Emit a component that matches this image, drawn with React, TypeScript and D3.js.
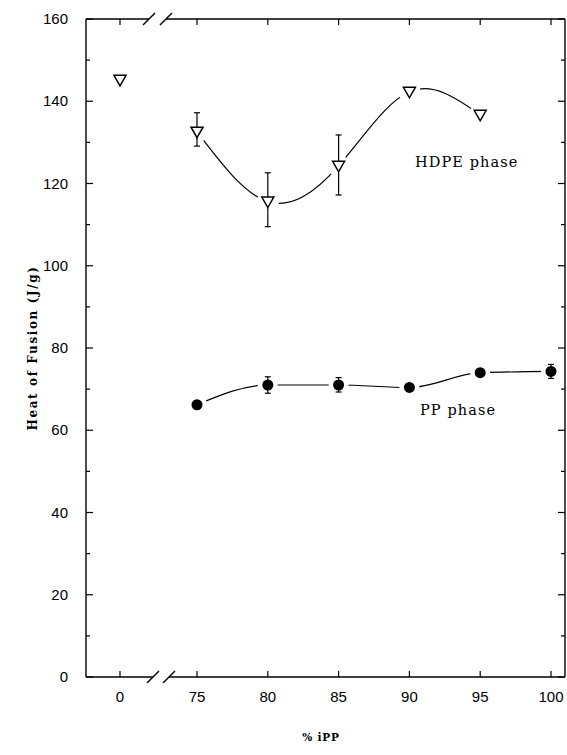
import React from "react";
import * as d3 from "d3";

// HDPE phase (open down-triangles)
const hdpeX = [0, 75, 80, 85, 90, 95];
const hdpeY = [145.2, 132.6, 115.6, 124.3, 142.3, 136.7];
const hdpeErrLo = [NaN, 129.1, 109.5, 117.2, NaN, NaN];
const hdpeErrHi = [NaN, 137.2, 122.6, 131.8, NaN, NaN];

// PP phase (filled circles)
const ppX = [75, 80, 85, 90, 95, 100];
const ppY = [66.2, 71.0, 71.0, 70.4, 74.0, 74.3];
const ppErrLo = [NaN, 69.0, 69.3, NaN, NaN, 72.6];
const ppErrHi = [NaN, 73.0, 72.8, NaN, NaN, 76.0];

const xTicks = [0, 75, 80, 85, 90, 95, 100];
const yMajor = [0, 20, 40, 60, 80, 100, 120, 140, 160];
const yMinor = [10, 30, 50, 70, 90, 110, 130, 150];

const W = 567, H = 755;
const L = 86, R = 565, T = 19, B = 677;

export default function App() {
  const x = d3.scaleLinear().domain([0, 75, 100]).range([120, 197, 551]);
  const y = d3.scaleLinear().domain([0, 160]).range([B, T]);

  const hdpeCurvePts = hdpeX.map((v, i) => [v, hdpeY[i]]).filter(p => p[0] >= 75);
  const ppPts = ppX.map((v, i) => [v, ppY[i]]);
  const hdpeLine = d3.line<number[]>().x(d => x(d[0])).y(d => y(d[1])).curve(d3.curveNatural);
  const ppLine = d3.line<number[]>().x(d => x(d[0])).y(d => y(d[1])).curve(d3.curveMonotoneX);

  const slash = (cx: number, cy: number, k: string) => (
    <line key={k} x1={cx - 6} y1={cy + 6} x2={cx + 6} y2={cy - 6} stroke="#000" strokeWidth={1.4} />
  );

  const tri = (cx: number, cy: number) => {
    const s = 6;
    return `M${cx - s},${cy - 4.5}L${cx + s},${cy - 4.5}L${cx},${cy + 6}Z`;
  };

  const errBar = (xv: number, lo: number, hi: number, k: string) =>
    isNaN(lo) ? null : (
      <g key={k} stroke="#000" strokeWidth={1.2}>
        <line x1={x(xv)} x2={x(xv)} y1={y(lo)} y2={y(hi)} />
        <line x1={x(xv) - 3} x2={x(xv) + 3} y1={y(lo)} y2={y(lo)} />
        <line x1={x(xv) - 3} x2={x(xv) + 3} y1={y(hi)} y2={y(hi)} />
      </g>
    );

  const tickFont = "'Liberation Sans', Arial, sans-serif";
  const serif = "'DejaVu Serif', 'Liberation Serif', serif";

  return (
    <svg width={W} height={H} style={{ position: "absolute", left: 0, top: 0, background: "#fff" }}>
      <rect x={0} y={0} width={W} height={H} fill="#fff" />
      {/* frame */}
      <g stroke="#000" strokeWidth={1.4} fill="none">
        <line x1={L} x2={L} y1={T} y2={B} />
        <line x1={R} x2={R} y1={T} y2={B} />
        <line x1={L} x2={153} y1={B} y2={B} />
        <line x1={169} x2={R} y1={B} y2={B} />
        <line x1={L} x2={149} y1={T} y2={T} />
        <line x1={166} x2={R} y1={T} y2={T} />
      </g>
      {slash(153, B, "b1")}
      {slash(169, B, "b2")}
      {slash(149, T, "t1")}
      {slash(166, T, "t2")}
      {/* ticks */}
      <g stroke="#000" strokeWidth={1.2}>
        {xTicks.map(t => (
          <g key={"xt" + t}>
            <line x1={x(t)} x2={x(t)} y1={B} y2={B - 6} />
            <line x1={x(t)} x2={x(t)} y1={T} y2={T + 6} />
          </g>
        ))}
        {yMajor.map(t => (
          <g key={"ym" + t}>
            <line x1={L} x2={L + 7} y1={y(t)} y2={y(t)} />
            <line x1={R} x2={R - 7} y1={y(t)} y2={y(t)} />
          </g>
        ))}
        {yMinor.map(t => (
          <g key={"yn" + t}>
            <line x1={L} x2={L + 4} y1={y(t)} y2={y(t)} />
            <line x1={R} x2={R - 4} y1={y(t)} y2={y(t)} />
          </g>
        ))}
      </g>
      {/* tick labels */}
      <g fontFamily={tickFont} fontSize={15} fill="#000">
        {xTicks.map(t => (
          <text key={"xl" + t} x={x(t)} y={702} textAnchor="middle">{t}</text>
        ))}
        {yMajor.map(t => (
          <text key={"yl" + t} x={68} y={y(t) + 5} textAnchor="end">{t}</text>
        ))}
      </g>
      {/* axis titles */}
      <text transform={`translate(37,${(T + B) / 2}) rotate(-90)`} textAnchor="middle"
        fontFamily={serif} fontWeight="bold" fontSize={12} letterSpacing={1.6}>Heat of Fusion (J/g)</text>
      <text x={321} y={741} textAnchor="middle" fontFamily={serif} fontWeight="bold" fontSize={10.5} letterSpacing={0.8}>% iPP</text>

      {/* curves */}
      <path d={hdpeLine(hdpeCurvePts) || ""} fill="none" stroke="#000" strokeWidth={1.2} />
      <path d={ppLine(ppPts) || ""} fill="none" stroke="#000" strokeWidth={1.2} />
      {/* gaps around markers */}
      {hdpeX.map((v, i) => <circle key={"hg" + i} cx={x(v)} cy={y(hdpeY[i])} r={11} fill="#fff" />)}
      {ppX.map((v, i) => <circle key={"pg" + i} cx={x(v)} cy={y(ppY[i])} r={10} fill="#fff" />)}
      {/* error bars */}
      {hdpeX.map((v, i) => errBar(v, hdpeErrLo[i], hdpeErrHi[i], "he" + i))}
      {ppX.map((v, i) => errBar(v, ppErrLo[i], ppErrHi[i], "pe" + i))}
      {/* markers */}
      {hdpeX.map((v, i) => (
        <path key={"hm" + i} d={tri(x(v), y(hdpeY[i]))} fill="#fff" stroke="#000" strokeWidth={1.5} />
      ))}
      {ppX.map((v, i) => (
        <circle key={"pm" + i} cx={x(v)} cy={y(ppY[i])} r={5.5} fill="#000" />
      ))}
      {/* labels */}
      <text x={415} y={167} fontFamily={serif} fontSize={14.5} letterSpacing={1.1}>HDPE phase</text>
      <text x={420} y={415} fontFamily={serif} fontSize={14.5} letterSpacing={1.1}>PP phase</text>
    </svg>
  );
}
